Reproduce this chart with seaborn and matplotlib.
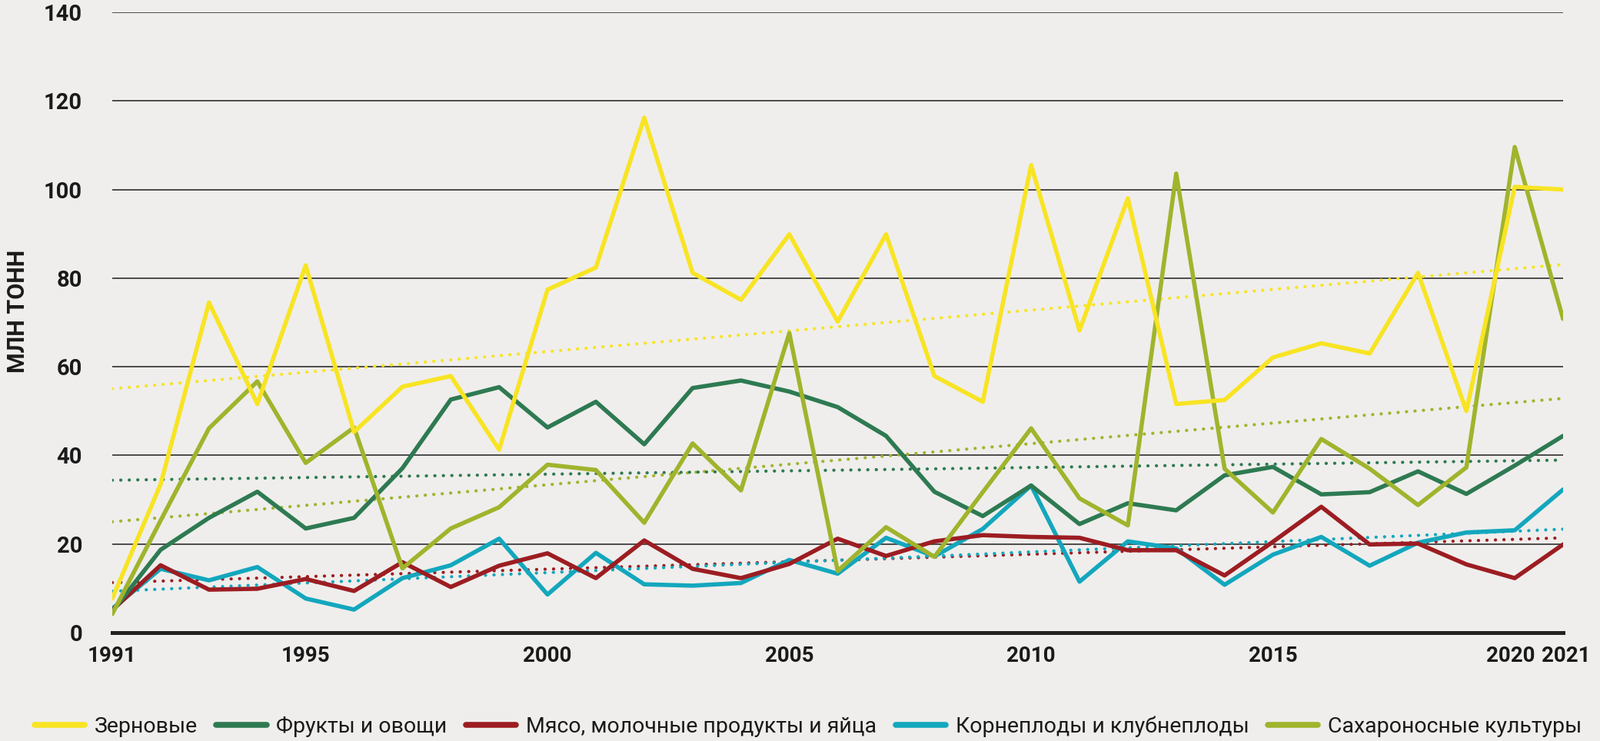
import numpy as np
import pandas as pd
import matplotlib
matplotlib.use("Agg")
import matplotlib.pyplot as plt
import matplotlib.transforms as mtransforms
import seaborn as sns
from matplotlib.lines import Line2D

years = list(range(1991, 2022))

grains = [7.7, 33.5, 74.5, 51.6, 82.9, 45.3, 55.5, 57.9, 41.3, 77.4, 82.4, 116.2, 81.2, 75.1, 89.9,
          70.2, 89.9, 57.9, 52.1, 105.5, 68.2, 98.0, 51.6, 52.5, 62.1, 65.3, 63.0, 81.2, 50.0, 100.6, 100.0]
fruits_veg = [4.8, 18.7, 25.9, 31.8, 23.5, 25.9, 37.1, 52.6, 55.4, 46.3, 52.1, 42.5, 55.2, 56.9, 54.4,
              50.9, 44.4, 31.8, 26.3, 33.2, 24.5, 29.2, 27.6, 35.5, 37.4, 31.2, 31.7, 36.4, 31.3, 37.7, 44.4]
meat_dairy = [5.1, 15.2, 9.7, 9.9, 12.1, 9.4, 15.9, 10.3, 15.1, 17.9, 12.3, 20.8, 14.4, 12.3, 15.5,
              21.2, 17.3, 20.6, 22.0, 21.6, 21.4, 18.6, 18.6, 12.9, 20.5, 28.4, 19.9, 20.1, 15.4, 12.3, 19.9]
roots_tubers = [5.4, 14.4, 11.8, 14.8, 7.7, 5.2, 12.3, 15.2, 21.2, 8.6, 18.0, 10.9, 10.6, 11.2, 16.4,
                13.3, 21.4, 17.2, 23.4, 33.2, 11.5, 20.6, 19.0, 10.8, 17.6, 21.6, 15.1, 20.3, 22.6, 23.1, 32.3]
sugar_crops = [4.2, 25.3, 46.1, 56.7, 38.3, 46.3, 14.5, 23.5, 28.3, 37.9, 36.7, 24.8, 42.7, 32.1, 67.6,
               13.9, 23.8, 17.1, 31.7, 46.1, 30.3, 24.2, 103.6, 37.0, 27.1, 43.7, 37.0, 28.8, 37.3, 109.6, 70.8]

series_names = ["Зерновые", "Фрукты и овощи", "Мясо, молочные продукты и яйца",
                "Корнеплоды и клубнеплоды", "Сахароносные культуры"]
series_values = [grains, fruits_veg, meat_dairy, roots_tubers, sugar_crops]
colors = ["#F8E423", "#2E7A52", "#9C1D22", "#13A7BD", "#A0B42C"]

xtick_values = [1991, 1995, 2000, 2005, 2010, 2015, 2020, 2021]
ytick_values = [0, 20, 40, 60, 80, 100, 120, 140]
y_label = "МЛН ТОНН"

df = pd.DataFrame({
    "year": years * len(series_names),
    "value": sum(series_values, []),
    "series": sum([[n] * len(years) for n in series_names], []),
})

sns.set_theme(style="white")
bg = "#EFEEEC"
plt.rcParams["font.family"] = ["Roboto", "DejaVu Sans"]

fig = plt.figure(figsize=(20.81, 9.64), dpi=100, facecolor=bg)
ax = fig.add_axes([146 / 2081, 1 - 823 / 964, (2033 - 146) / 2081, (823 - 16) / 964])
ax.set_facecolor(bg)

# trend lines (linear fits)
for i in [4, 1, 2, 3, 0]:
    sub = df[df["series"] == series_names[i]]
    sns.regplot(data=sub, x="year", y="value", ax=ax, scatter=False, ci=None,
                line_kws=dict(color=colors[i], lw=3.0, ls=(0, (0.05, 2.6)),
                              dash_capstyle="round", zorder=2))

# main lines
for i in [3, 2, 1, 4, 0]:
    sub = df[df["series"] == series_names[i]]
    sns.lineplot(data=sub, x="year", y="value", ax=ax, color=colors[i], lw=4.0,
                 zorder=3, legend=False)

ax.set_xlim(1991, 2021)
ax.set_ylim(0, 140)
ax.set_yticks(ytick_values)
ax.set_yticklabels([str(v) for v in ytick_values], fontsize=21, fontweight="bold", color="#1a1a1a")
ax.set_xticks(xtick_values)
ax.set_xticklabels([str(v) for v in xtick_values], fontsize=20, fontweight="bold", color="#1a1a1a")
ax.set_xticks(years, minor=True)
ax.tick_params(axis="x", which="both", direction="out", length=4, width=1, color="#222222", pad=8)
ax.tick_params(axis="y", length=0, pad=28)

# nudge the two crowded right-hand labels apart
labels = ax.get_xticklabels()
labels[-2].set_transform(labels[-2].get_transform() +
                         mtransforms.ScaledTranslation(-4 / 72, 0, fig.dpi_scale_trans))
labels[-1].set_transform(labels[-1].get_transform() +
                         mtransforms.ScaledTranslation(3 / 72, 0, fig.dpi_scale_trans))

ax.yaxis.grid(True, color="#4a4a4a", lw=1.4)
ax.set_axisbelow(True)
for s in ["left", "right", "top"]:
    ax.spines[s].set_visible(False)
ax.spines["bottom"].set_color("#222222")
ax.spines["bottom"].set_linewidth(3.6)
ax.spines["bottom"].set_zorder(5)

ax.set_xlabel("")
ax.set_ylabel("")
fig.text(0.004, 1 - 405 / 964, y_label, rotation=90, ha="left", va="center",
         fontsize=22, fontweight="bold", color="#1a1a1a")

handles = [Line2D([0], [0], color=c, lw=5.5, solid_capstyle="round") for c in colors]
fig.legend(handles, series_names, loc="center", bbox_to_anchor=(0.505, 1 - 945 / 964), ncol=5,
           frameon=False, fontsize=20.5, handlelength=2.3, handletextpad=0.45, columnspacing=0.85,
           labelcolor="#1a1a1a")

fig.savefig("out.png", dpi=100, facecolor=bg)
